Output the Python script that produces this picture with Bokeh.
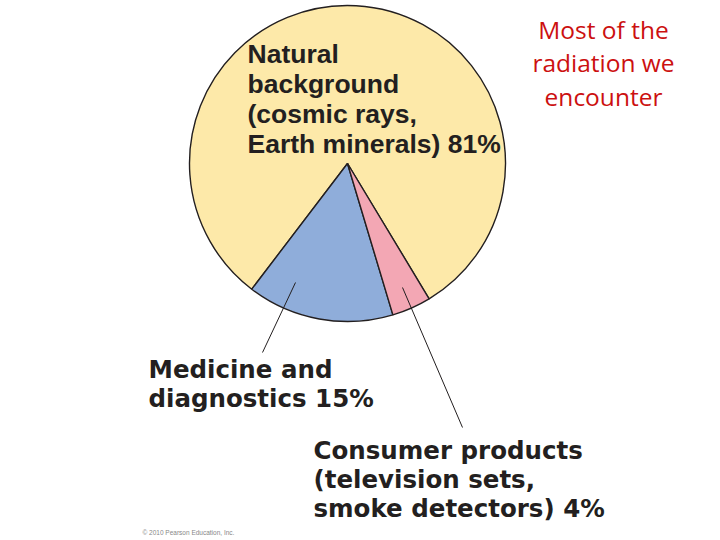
import numpy as np
from bokeh.plotting import figure
from bokeh.models import Range1d, ColumnDataSource
from bokeh.core.properties import value
from bokeh.embed import file_html
from bokeh.resources import INLINE

# ---- data ----
categories = ["Natural background", "Medicine and diagnostics", "Consumer products"]
percents = [81, 15, 4]
label_lines = [
    ["Natural", "background", "(cosmic rays,", "Earth minerals) 81%"],
    ["Medicine and", "diagnostics 15%"],
    ["Consumer products", "(television sets,", "smoke detectors) 4%"],
]
slice_colors = ["#FDE9A9", "#8FADDA", "#F3A7B4"]
note_lines = ["Most of the", "radiation we", "encounter"]
credit = "\u00a9 2010 Pearson Education, Inc."

# ---- layout (page pixel coords, y measured from top) ----
W, H = 720, 540
OFF = 0
def Y(py):
    return 540 - py

p = figure(width=W, height=H, output_backend="svg", toolbar_location=None,
           x_range=Range1d(OFF, OFF + W), y_range=Range1d(540 - OFF - H, 540 - OFF),
           min_border=0, background_fill_color="white", border_fill_color="white")
p.axis.visible = False
p.grid.visible = False
p.outline_line_color = None

cx, cy, r = 347, 163, 158
start_deg = 301.1
fr = np.array(percents, dtype=float) / sum(percents)
ends = np.cumsum(fr) * 2 * np.pi + np.radians(start_deg)
starts = np.concatenate([[np.radians(start_deg)], ends[:-1]])
src = ColumnDataSource(dict(cat=categories, start=starts, end=ends, color=slice_colors))
p.wedge(x=cx, y=Y(cy), radius=r, start_angle="start", end_angle="end",
        fill_color="color", line_color="#231F20", line_width=1.4, source=src)

# leader lines
p.line(x=[295, 262], y=[Y(282), Y(352)], line_color="#231F20", line_width=1)
p.line(x=[402, 462], y=[Y(287), Y(427)], line_color="#231F20", line_width=1)

# labels
def draw_lines(lines, x, y0, dy, font, size, color, align="left", style="bold"):
    ys = [Y(y0 + i * dy) for i in range(len(lines))]
    p.text(x=[x] * len(lines), y=ys, text=lines, text_font=value(font),
           text_font_size=size, text_font_style=style, text_color=color,
           text_align=align, text_baseline="alphabetic")

draw_lines(label_lines[0], 247, 53.5, 30, "Liberation Sans", "26.5px", "#231F20")
draw_lines(label_lines[1], 148, 368.5, 29, "DejaVu Sans", "24.5px", "#231F20")
draw_lines(label_lines[2], 313, 449.5, 29, "DejaVu Sans", "24.5px", "#231F20")
draw_lines(note_lines, 603, 28.5, 33.5, "Open Sans", "24.5px", "#CC1010", align="center", style="normal")
draw_lines([credit], 142, 532, 0, "Liberation Sans", "6.5px", "#888888", style="normal")

open("out.html", "w").write(file_html(p, INLINE))
